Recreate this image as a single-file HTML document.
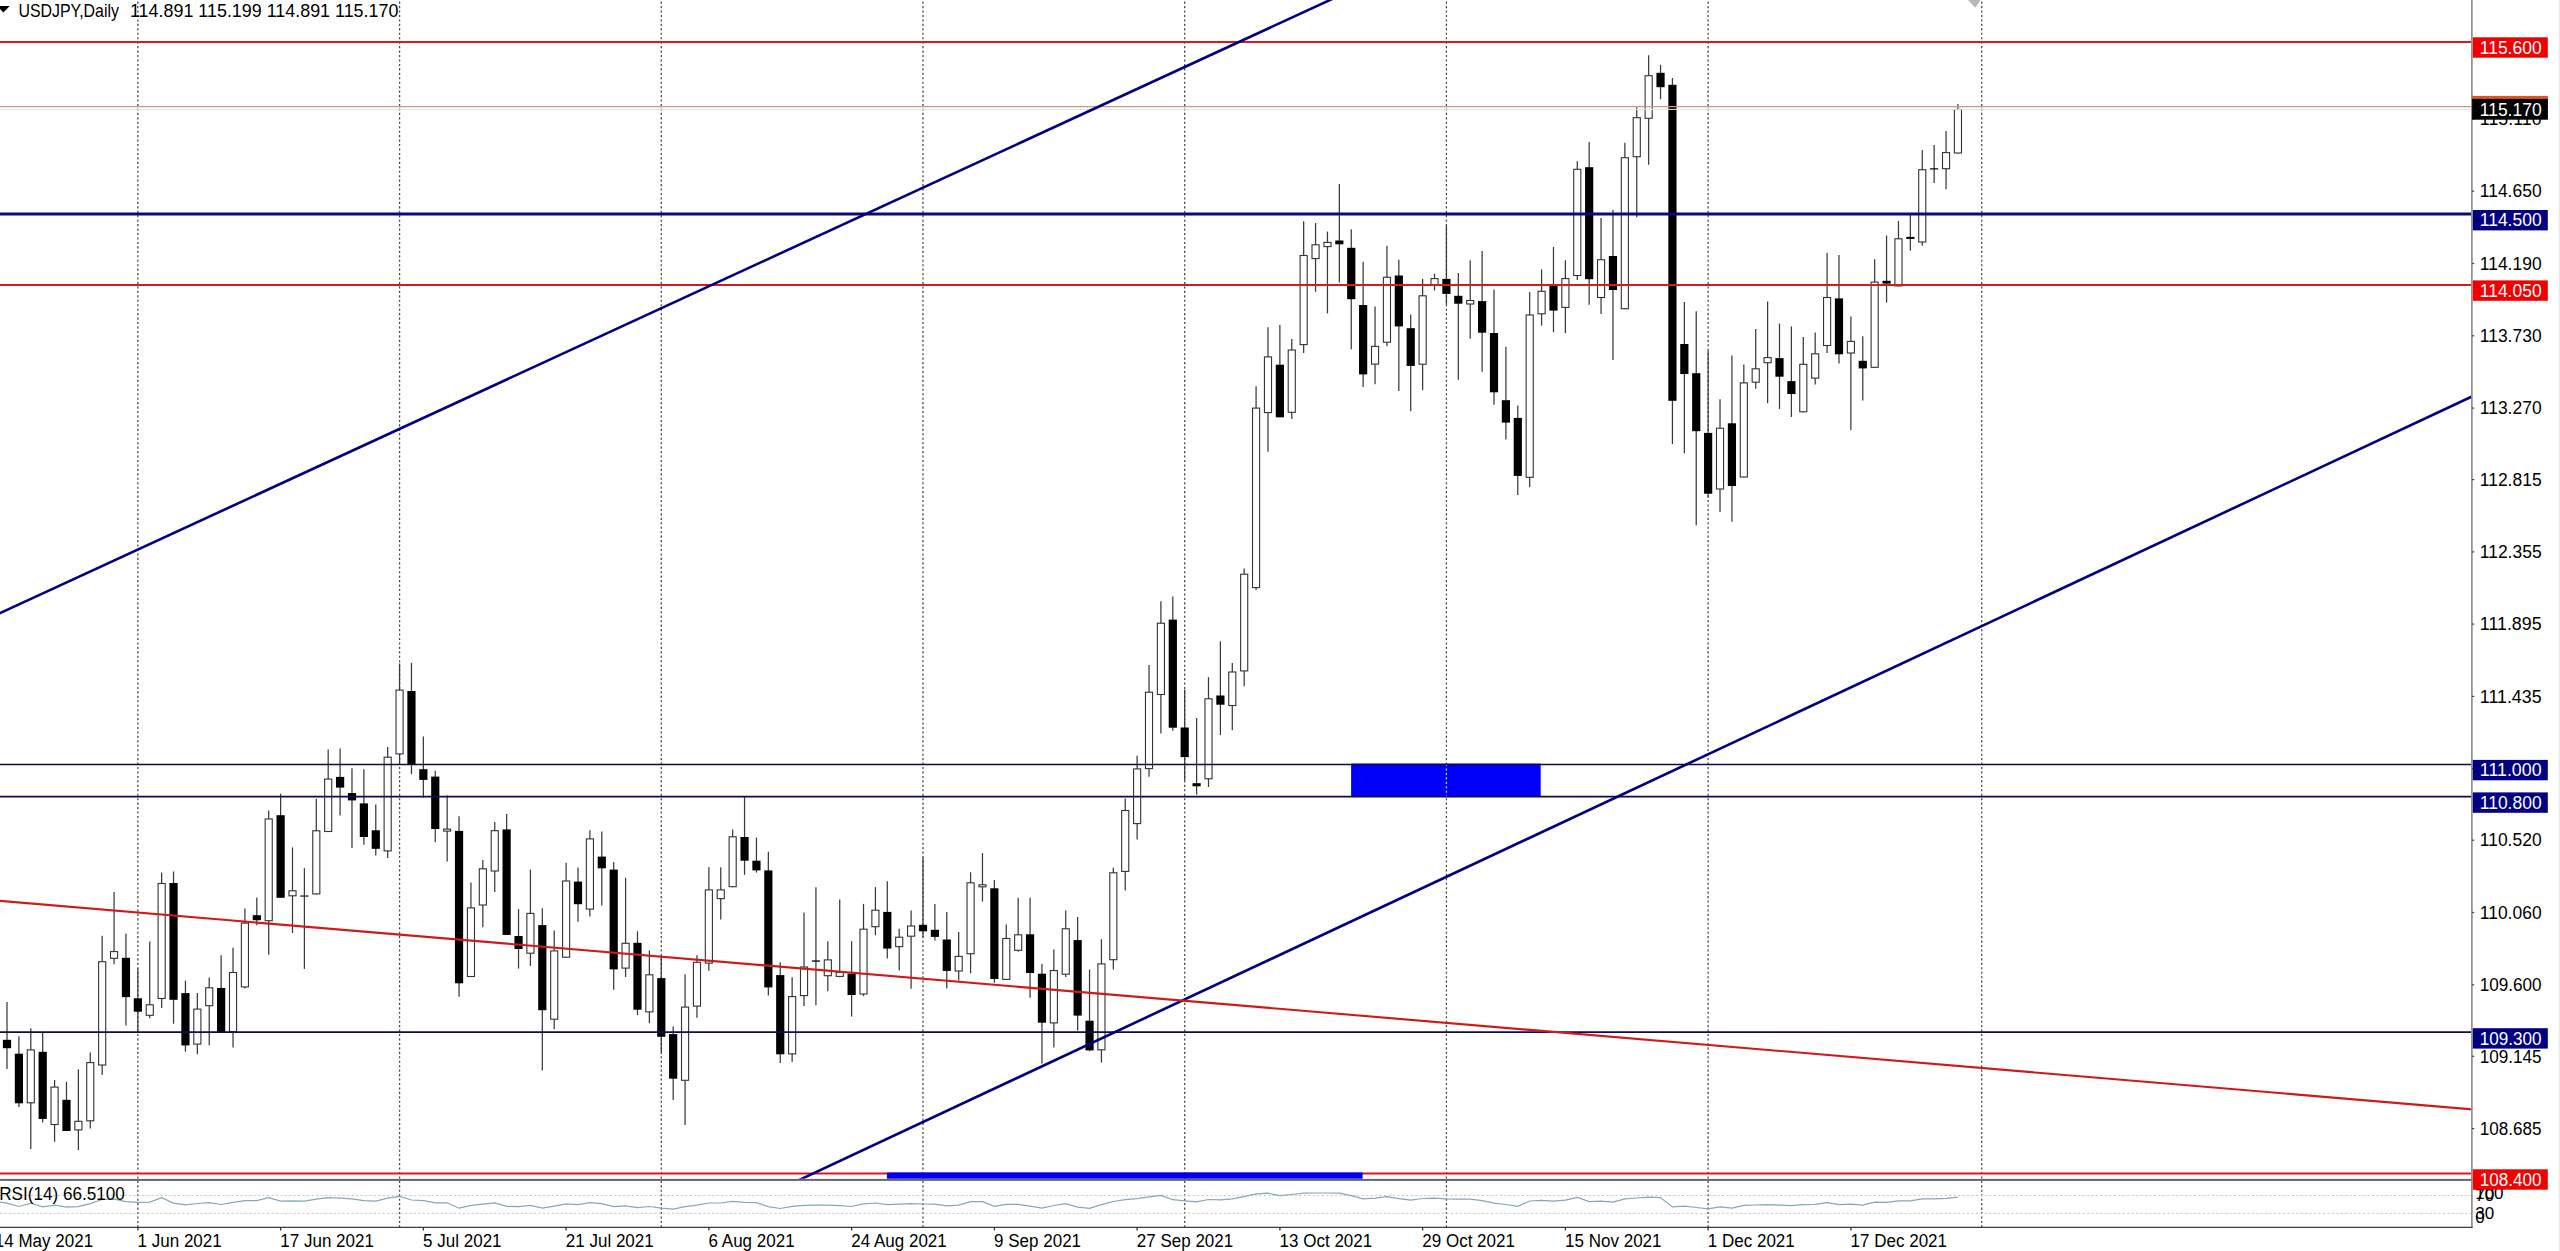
<!DOCTYPE html><html><head><meta charset="utf-8"><title>USDJPY,Daily</title><style>html,body{margin:0;padding:0;background:#fff;width:2560px;height:1251px;overflow:hidden;}text{font-family:"Liberation Sans",sans-serif;}</style></head><body><svg width="2560" height="1251" viewBox="0 0 2560 1251" style="position:absolute;left:0;top:0">
<defs><clipPath id="cc"><rect x="0" y="0" width="2471.2" height="1178.8"/></clipPath><clipPath id="rc"><rect x="0" y="1181" width="2471.2" height="46"/></clipPath></defs>
<rect x="0" y="0" width="2560" height="1251" fill="#fff"/>
<line x1="137.86" y1="1.6" x2="137.86" y2="1227" stroke="#4a4a4a" stroke-width="1.3" stroke-dasharray="2.1 2.35"/>
<line x1="399.57" y1="1.6" x2="399.57" y2="1227" stroke="#4a4a4a" stroke-width="1.3" stroke-dasharray="2.1 2.35"/>
<line x1="661.28" y1="1.6" x2="661.28" y2="1227" stroke="#4a4a4a" stroke-width="1.3" stroke-dasharray="2.1 2.35"/>
<line x1="922.99" y1="1.6" x2="922.99" y2="1227" stroke="#4a4a4a" stroke-width="1.3" stroke-dasharray="2.1 2.35"/>
<line x1="1184.70" y1="1.6" x2="1184.70" y2="1227" stroke="#4a4a4a" stroke-width="1.3" stroke-dasharray="2.1 2.35"/>
<line x1="1446.42" y1="1.6" x2="1446.42" y2="1227" stroke="#4a4a4a" stroke-width="1.3" stroke-dasharray="2.1 2.35"/>
<line x1="1708.13" y1="1.6" x2="1708.13" y2="1227" stroke="#4a4a4a" stroke-width="1.3" stroke-dasharray="2.1 2.35"/>
<line x1="1981.74" y1="1.6" x2="1981.74" y2="1227" stroke="#4a4a4a" stroke-width="1.3" stroke-dasharray="2.1 2.35"/>
<g clip-path="url(#cc)">
<rect x="1351.1" y="763.6" width="189.6" height="33" fill="#0000fa"/>
<line x1="1446.42" y1="764" x2="1446.42" y2="796" stroke="#d0d0ff" stroke-width="1.2" stroke-dasharray="2.1 2.35"/>
<line x1="7.00" y1="1001.9" x2="7.00" y2="1069.1" stroke="#3a3a3a" stroke-width="1.25"/>
<line x1="18.90" y1="1036.2" x2="18.90" y2="1106.9" stroke="#3a3a3a" stroke-width="1.25"/>
<line x1="30.79" y1="1028.3" x2="30.79" y2="1148.9" stroke="#3a3a3a" stroke-width="1.25"/>
<line x1="42.69" y1="1032.6" x2="42.69" y2="1122.5" stroke="#3a3a3a" stroke-width="1.25"/>
<line x1="54.58" y1="1080.1" x2="54.58" y2="1141.7" stroke="#3a3a3a" stroke-width="1.25"/>
<line x1="66.48" y1="1081.8" x2="66.48" y2="1130.9" stroke="#3a3a3a" stroke-width="1.25"/>
<line x1="78.38" y1="1069.3" x2="78.38" y2="1150.1" stroke="#3a3a3a" stroke-width="1.25"/>
<line x1="90.27" y1="1052.5" x2="90.27" y2="1128.5" stroke="#3a3a3a" stroke-width="1.25"/>
<line x1="102.17" y1="935.8" x2="102.17" y2="1075.1" stroke="#3a3a3a" stroke-width="1.25"/>
<line x1="114.06" y1="891.9" x2="114.06" y2="964.3" stroke="#3a3a3a" stroke-width="1.25"/>
<line x1="125.96" y1="933.4" x2="125.96" y2="1025.4" stroke="#3a3a3a" stroke-width="1.25"/>
<line x1="137.86" y1="968.4" x2="137.86" y2="1031.4" stroke="#3a3a3a" stroke-width="1.25"/>
<line x1="149.75" y1="941.5" x2="149.75" y2="1018.2" stroke="#3a3a3a" stroke-width="1.25"/>
<line x1="161.65" y1="872.5" x2="161.65" y2="1007.9" stroke="#3a3a3a" stroke-width="1.25"/>
<line x1="173.54" y1="871.5" x2="173.54" y2="1023.7" stroke="#3a3a3a" stroke-width="1.25"/>
<line x1="185.44" y1="980.6" x2="185.44" y2="1051.8" stroke="#3a3a3a" stroke-width="1.25"/>
<line x1="197.34" y1="993.1" x2="197.34" y2="1054.2" stroke="#3a3a3a" stroke-width="1.25"/>
<line x1="209.23" y1="977.5" x2="209.23" y2="1045.3" stroke="#3a3a3a" stroke-width="1.25"/>
<line x1="221.13" y1="955.2" x2="221.13" y2="1032.1" stroke="#3a3a3a" stroke-width="1.25"/>
<line x1="233.02" y1="947.7" x2="233.02" y2="1047.5" stroke="#3a3a3a" stroke-width="1.25"/>
<line x1="244.92" y1="908.5" x2="244.92" y2="988.4" stroke="#3a3a3a" stroke-width="1.25"/>
<line x1="256.82" y1="897.4" x2="256.82" y2="925.3" stroke="#3a3a3a" stroke-width="1.25"/>
<line x1="268.71" y1="810.5" x2="268.71" y2="954.8" stroke="#3a3a3a" stroke-width="1.25"/>
<line x1="280.61" y1="793.7" x2="280.61" y2="897.7" stroke="#3a3a3a" stroke-width="1.25"/>
<line x1="292.50" y1="847.4" x2="292.50" y2="933.0" stroke="#3a3a3a" stroke-width="1.25"/>
<line x1="304.40" y1="868.2" x2="304.40" y2="968.9" stroke="#3a3a3a" stroke-width="1.25"/>
<line x1="316.30" y1="798.7" x2="316.30" y2="894.4" stroke="#3a3a3a" stroke-width="1.25"/>
<line x1="328.19" y1="749.4" x2="328.19" y2="831.9" stroke="#3a3a3a" stroke-width="1.25"/>
<line x1="340.09" y1="748.4" x2="340.09" y2="815.5" stroke="#3a3a3a" stroke-width="1.25"/>
<line x1="351.98" y1="768.2" x2="351.98" y2="848.1" stroke="#3a3a3a" stroke-width="1.25"/>
<line x1="363.88" y1="769.2" x2="363.88" y2="844.7" stroke="#3a3a3a" stroke-width="1.25"/>
<line x1="375.78" y1="804.4" x2="375.78" y2="855.4" stroke="#3a3a3a" stroke-width="1.25"/>
<line x1="387.67" y1="747.0" x2="387.67" y2="858.1" stroke="#3a3a3a" stroke-width="1.25"/>
<line x1="399.57" y1="663.4" x2="399.57" y2="763.5" stroke="#3a3a3a" stroke-width="1.25"/>
<line x1="411.46" y1="662.8" x2="411.46" y2="774.2" stroke="#3a3a3a" stroke-width="1.25"/>
<line x1="423.36" y1="736.6" x2="423.36" y2="797.7" stroke="#3a3a3a" stroke-width="1.25"/>
<line x1="435.26" y1="770.8" x2="435.26" y2="842.3" stroke="#3a3a3a" stroke-width="1.25"/>
<line x1="447.15" y1="795.4" x2="447.15" y2="861.5" stroke="#3a3a3a" stroke-width="1.25"/>
<line x1="459.05" y1="816.2" x2="459.05" y2="996.8" stroke="#3a3a3a" stroke-width="1.25"/>
<line x1="470.94" y1="882.4" x2="470.94" y2="977.0" stroke="#3a3a3a" stroke-width="1.25"/>
<line x1="482.84" y1="860.1" x2="482.84" y2="927.3" stroke="#3a3a3a" stroke-width="1.25"/>
<line x1="494.74" y1="822.1" x2="494.74" y2="891.9" stroke="#3a3a3a" stroke-width="1.25"/>
<line x1="506.63" y1="813.9" x2="506.63" y2="934.9" stroke="#3a3a3a" stroke-width="1.25"/>
<line x1="518.53" y1="909.1" x2="518.53" y2="968.6" stroke="#3a3a3a" stroke-width="1.25"/>
<line x1="530.42" y1="869.6" x2="530.42" y2="965.9" stroke="#3a3a3a" stroke-width="1.25"/>
<line x1="542.32" y1="908.2" x2="542.32" y2="1070.5" stroke="#3a3a3a" stroke-width="1.25"/>
<line x1="554.22" y1="930.5" x2="554.22" y2="1029.2" stroke="#3a3a3a" stroke-width="1.25"/>
<line x1="566.11" y1="862.8" x2="566.11" y2="957.7" stroke="#3a3a3a" stroke-width="1.25"/>
<line x1="578.01" y1="867.5" x2="578.01" y2="921.8" stroke="#3a3a3a" stroke-width="1.25"/>
<line x1="589.90" y1="830.2" x2="589.90" y2="916.4" stroke="#3a3a3a" stroke-width="1.25"/>
<line x1="601.80" y1="831.6" x2="601.80" y2="905.5" stroke="#3a3a3a" stroke-width="1.25"/>
<line x1="613.70" y1="862.0" x2="613.70" y2="989.8" stroke="#3a3a3a" stroke-width="1.25"/>
<line x1="625.59" y1="877.8" x2="625.59" y2="977.0" stroke="#3a3a3a" stroke-width="1.25"/>
<line x1="637.49" y1="931.3" x2="637.49" y2="1015.1" stroke="#3a3a3a" stroke-width="1.25"/>
<line x1="649.38" y1="950.4" x2="649.38" y2="1023.2" stroke="#3a3a3a" stroke-width="1.25"/>
<line x1="661.28" y1="956.3" x2="661.28" y2="1052.3" stroke="#3a3a3a" stroke-width="1.25"/>
<line x1="673.18" y1="1026.5" x2="673.18" y2="1099.9" stroke="#3a3a3a" stroke-width="1.25"/>
<line x1="685.07" y1="974.3" x2="685.07" y2="1124.9" stroke="#3a3a3a" stroke-width="1.25"/>
<line x1="696.97" y1="955.3" x2="696.97" y2="1017.8" stroke="#3a3a3a" stroke-width="1.25"/>
<line x1="708.86" y1="867.2" x2="708.86" y2="970.8" stroke="#3a3a3a" stroke-width="1.25"/>
<line x1="720.76" y1="867.2" x2="720.76" y2="919.6" stroke="#3a3a3a" stroke-width="1.25"/>
<line x1="732.66" y1="829.4" x2="732.66" y2="887.3" stroke="#3a3a3a" stroke-width="1.25"/>
<line x1="744.55" y1="796.6" x2="744.55" y2="874.8" stroke="#3a3a3a" stroke-width="1.25"/>
<line x1="756.45" y1="837.6" x2="756.45" y2="872.6" stroke="#3a3a3a" stroke-width="1.25"/>
<line x1="768.34" y1="851.7" x2="768.34" y2="995.6" stroke="#3a3a3a" stroke-width="1.25"/>
<line x1="780.24" y1="962.2" x2="780.24" y2="1063.0" stroke="#3a3a3a" stroke-width="1.25"/>
<line x1="792.14" y1="977.3" x2="792.14" y2="1062.1" stroke="#3a3a3a" stroke-width="1.25"/>
<line x1="804.03" y1="912.5" x2="804.03" y2="1006.0" stroke="#3a3a3a" stroke-width="1.25"/>
<line x1="815.93" y1="887.3" x2="815.93" y2="1005.3" stroke="#3a3a3a" stroke-width="1.25"/>
<line x1="827.82" y1="941.2" x2="827.82" y2="991.3" stroke="#3a3a3a" stroke-width="1.25"/>
<line x1="839.72" y1="899.6" x2="839.72" y2="977.3" stroke="#3a3a3a" stroke-width="1.25"/>
<line x1="851.62" y1="941.2" x2="851.62" y2="1016.6" stroke="#3a3a3a" stroke-width="1.25"/>
<line x1="863.51" y1="903.9" x2="863.51" y2="996.1" stroke="#3a3a3a" stroke-width="1.25"/>
<line x1="875.41" y1="887.1" x2="875.41" y2="935.2" stroke="#3a3a3a" stroke-width="1.25"/>
<line x1="887.30" y1="881.2" x2="887.30" y2="958.5" stroke="#3a3a3a" stroke-width="1.25"/>
<line x1="899.20" y1="928.7" x2="899.20" y2="970.4" stroke="#3a3a3a" stroke-width="1.25"/>
<line x1="911.10" y1="910.4" x2="911.10" y2="988.7" stroke="#3a3a3a" stroke-width="1.25"/>
<line x1="922.99" y1="857.5" x2="922.99" y2="937.3" stroke="#3a3a3a" stroke-width="1.25"/>
<line x1="934.89" y1="903.9" x2="934.89" y2="940.6" stroke="#3a3a3a" stroke-width="1.25"/>
<line x1="946.78" y1="911.9" x2="946.78" y2="988.4" stroke="#3a3a3a" stroke-width="1.25"/>
<line x1="958.68" y1="932.0" x2="958.68" y2="980.5" stroke="#3a3a3a" stroke-width="1.25"/>
<line x1="970.58" y1="872.3" x2="970.58" y2="973.3" stroke="#3a3a3a" stroke-width="1.25"/>
<line x1="982.47" y1="853.1" x2="982.47" y2="901.6" stroke="#3a3a3a" stroke-width="1.25"/>
<line x1="994.37" y1="880.0" x2="994.37" y2="982.7" stroke="#3a3a3a" stroke-width="1.25"/>
<line x1="1006.26" y1="924.5" x2="1006.26" y2="979.9" stroke="#3a3a3a" stroke-width="1.25"/>
<line x1="1018.16" y1="897.7" x2="1018.16" y2="951.7" stroke="#3a3a3a" stroke-width="1.25"/>
<line x1="1030.06" y1="897.7" x2="1030.06" y2="997.7" stroke="#3a3a3a" stroke-width="1.25"/>
<line x1="1041.95" y1="963.9" x2="1041.95" y2="1063.5" stroke="#3a3a3a" stroke-width="1.25"/>
<line x1="1053.85" y1="949.5" x2="1053.85" y2="1047.5" stroke="#3a3a3a" stroke-width="1.25"/>
<line x1="1065.74" y1="910.4" x2="1065.74" y2="977.1" stroke="#3a3a3a" stroke-width="1.25"/>
<line x1="1077.64" y1="917.0" x2="1077.64" y2="1030.6" stroke="#3a3a3a" stroke-width="1.25"/>
<line x1="1089.54" y1="969.6" x2="1089.54" y2="1051.3" stroke="#3a3a3a" stroke-width="1.25"/>
<line x1="1101.43" y1="939.2" x2="1101.43" y2="1062.5" stroke="#3a3a3a" stroke-width="1.25"/>
<line x1="1113.33" y1="867.8" x2="1113.33" y2="969.6" stroke="#3a3a3a" stroke-width="1.25"/>
<line x1="1125.22" y1="798.5" x2="1125.22" y2="890.5" stroke="#3a3a3a" stroke-width="1.25"/>
<line x1="1137.12" y1="755.8" x2="1137.12" y2="839.4" stroke="#3a3a3a" stroke-width="1.25"/>
<line x1="1149.02" y1="665.1" x2="1149.02" y2="776.8" stroke="#3a3a3a" stroke-width="1.25"/>
<line x1="1160.91" y1="601.2" x2="1160.91" y2="733.4" stroke="#3a3a3a" stroke-width="1.25"/>
<line x1="1172.81" y1="596.6" x2="1172.81" y2="730.8" stroke="#3a3a3a" stroke-width="1.25"/>
<line x1="1184.70" y1="689.4" x2="1184.70" y2="780.6" stroke="#3a3a3a" stroke-width="1.25"/>
<line x1="1196.60" y1="718.0" x2="1196.60" y2="794.7" stroke="#3a3a3a" stroke-width="1.25"/>
<line x1="1208.50" y1="677.1" x2="1208.50" y2="787.0" stroke="#3a3a3a" stroke-width="1.25"/>
<line x1="1220.39" y1="641.3" x2="1220.39" y2="735.1" stroke="#3a3a3a" stroke-width="1.25"/>
<line x1="1232.29" y1="663.1" x2="1232.29" y2="730.3" stroke="#3a3a3a" stroke-width="1.25"/>
<line x1="1244.18" y1="568.6" x2="1244.18" y2="686.2" stroke="#3a3a3a" stroke-width="1.25"/>
<line x1="1256.08" y1="386.3" x2="1256.08" y2="589.9" stroke="#3a3a3a" stroke-width="1.25"/>
<line x1="1267.98" y1="327.2" x2="1267.98" y2="451.7" stroke="#3a3a3a" stroke-width="1.25"/>
<line x1="1279.87" y1="325.1" x2="1279.87" y2="417.3" stroke="#3a3a3a" stroke-width="1.25"/>
<line x1="1291.77" y1="338.9" x2="1291.77" y2="419.0" stroke="#3a3a3a" stroke-width="1.25"/>
<line x1="1303.66" y1="221.3" x2="1303.66" y2="353.0" stroke="#3a3a3a" stroke-width="1.25"/>
<line x1="1315.56" y1="223.0" x2="1315.56" y2="291.8" stroke="#3a3a3a" stroke-width="1.25"/>
<line x1="1327.46" y1="231.6" x2="1327.46" y2="313.4" stroke="#3a3a3a" stroke-width="1.25"/>
<line x1="1339.35" y1="184.1" x2="1339.35" y2="282.5" stroke="#3a3a3a" stroke-width="1.25"/>
<line x1="1351.25" y1="229.3" x2="1351.25" y2="349.3" stroke="#3a3a3a" stroke-width="1.25"/>
<line x1="1363.14" y1="261.8" x2="1363.14" y2="387.1" stroke="#3a3a3a" stroke-width="1.25"/>
<line x1="1375.04" y1="306.6" x2="1375.04" y2="384.2" stroke="#3a3a3a" stroke-width="1.25"/>
<line x1="1386.94" y1="245.7" x2="1386.94" y2="346.2" stroke="#3a3a3a" stroke-width="1.25"/>
<line x1="1398.83" y1="259.7" x2="1398.83" y2="391.0" stroke="#3a3a3a" stroke-width="1.25"/>
<line x1="1410.73" y1="314.5" x2="1410.73" y2="411.3" stroke="#3a3a3a" stroke-width="1.25"/>
<line x1="1422.62" y1="278.9" x2="1422.62" y2="390.2" stroke="#3a3a3a" stroke-width="1.25"/>
<line x1="1434.52" y1="273.6" x2="1434.52" y2="290.5" stroke="#3a3a3a" stroke-width="1.25"/>
<line x1="1446.42" y1="225.4" x2="1446.42" y2="304.5" stroke="#3a3a3a" stroke-width="1.25"/>
<line x1="1458.31" y1="272.9" x2="1458.31" y2="379.7" stroke="#3a3a3a" stroke-width="1.25"/>
<line x1="1470.21" y1="260.2" x2="1470.21" y2="338.8" stroke="#3a3a3a" stroke-width="1.25"/>
<line x1="1482.10" y1="251.0" x2="1482.10" y2="371.8" stroke="#3a3a3a" stroke-width="1.25"/>
<line x1="1494.00" y1="289.5" x2="1494.00" y2="404.7" stroke="#3a3a3a" stroke-width="1.25"/>
<line x1="1505.90" y1="346.7" x2="1505.90" y2="439.5" stroke="#3a3a3a" stroke-width="1.25"/>
<line x1="1517.79" y1="405.5" x2="1517.79" y2="494.9" stroke="#3a3a3a" stroke-width="1.25"/>
<line x1="1529.69" y1="292.1" x2="1529.69" y2="487.3" stroke="#3a3a3a" stroke-width="1.25"/>
<line x1="1541.58" y1="269.4" x2="1541.58" y2="325.6" stroke="#3a3a3a" stroke-width="1.25"/>
<line x1="1553.48" y1="247.0" x2="1553.48" y2="332.2" stroke="#3a3a3a" stroke-width="1.25"/>
<line x1="1565.38" y1="260.2" x2="1565.38" y2="333.0" stroke="#3a3a3a" stroke-width="1.25"/>
<line x1="1577.27" y1="161.2" x2="1577.27" y2="280.0" stroke="#3a3a3a" stroke-width="1.25"/>
<line x1="1589.17" y1="142.0" x2="1589.17" y2="304.8" stroke="#3a3a3a" stroke-width="1.25"/>
<line x1="1601.06" y1="218.0" x2="1601.06" y2="314.0" stroke="#3a3a3a" stroke-width="1.25"/>
<line x1="1612.96" y1="210.0" x2="1612.96" y2="360.0" stroke="#3a3a3a" stroke-width="1.25"/>
<line x1="1624.86" y1="142.8" x2="1624.86" y2="309.2" stroke="#3a3a3a" stroke-width="1.25"/>
<line x1="1636.75" y1="107.2" x2="1636.75" y2="217.2" stroke="#3a3a3a" stroke-width="1.25"/>
<line x1="1648.65" y1="55.2" x2="1648.65" y2="164.8" stroke="#3a3a3a" stroke-width="1.25"/>
<line x1="1660.54" y1="64.8" x2="1660.54" y2="99.2" stroke="#3a3a3a" stroke-width="1.25"/>
<line x1="1672.44" y1="78.0" x2="1672.44" y2="444.0" stroke="#3a3a3a" stroke-width="1.25"/>
<line x1="1684.34" y1="302.0" x2="1684.34" y2="453.2" stroke="#3a3a3a" stroke-width="1.25"/>
<line x1="1696.23" y1="311.2" x2="1696.23" y2="525.2" stroke="#3a3a3a" stroke-width="1.25"/>
<line x1="1708.13" y1="350.4" x2="1708.13" y2="496.9" stroke="#3a3a3a" stroke-width="1.25"/>
<line x1="1720.02" y1="399.3" x2="1720.02" y2="512.1" stroke="#3a3a3a" stroke-width="1.25"/>
<line x1="1731.92" y1="355.6" x2="1731.92" y2="521.7" stroke="#3a3a3a" stroke-width="1.25"/>
<line x1="1743.82" y1="364.4" x2="1743.82" y2="477.6" stroke="#3a3a3a" stroke-width="1.25"/>
<line x1="1755.71" y1="328.9" x2="1755.71" y2="388.8" stroke="#3a3a3a" stroke-width="1.25"/>
<line x1="1767.61" y1="301.5" x2="1767.61" y2="403.2" stroke="#3a3a3a" stroke-width="1.25"/>
<line x1="1779.50" y1="323.6" x2="1779.50" y2="408.9" stroke="#3a3a3a" stroke-width="1.25"/>
<line x1="1791.40" y1="326.4" x2="1791.40" y2="417.0" stroke="#3a3a3a" stroke-width="1.25"/>
<line x1="1803.30" y1="337.0" x2="1803.30" y2="412.4" stroke="#3a3a3a" stroke-width="1.25"/>
<line x1="1815.19" y1="332.6" x2="1815.19" y2="384.4" stroke="#3a3a3a" stroke-width="1.25"/>
<line x1="1827.09" y1="252.8" x2="1827.09" y2="352.9" stroke="#3a3a3a" stroke-width="1.25"/>
<line x1="1838.98" y1="255.0" x2="1838.98" y2="363.6" stroke="#3a3a3a" stroke-width="1.25"/>
<line x1="1850.88" y1="316.6" x2="1850.88" y2="429.9" stroke="#3a3a3a" stroke-width="1.25"/>
<line x1="1862.78" y1="336.2" x2="1862.78" y2="400.5" stroke="#3a3a3a" stroke-width="1.25"/>
<line x1="1874.67" y1="259.2" x2="1874.67" y2="367.8" stroke="#3a3a3a" stroke-width="1.25"/>
<line x1="1886.57" y1="235.5" x2="1886.57" y2="302.6" stroke="#3a3a3a" stroke-width="1.25"/>
<line x1="1898.46" y1="220.9" x2="1898.46" y2="286.4" stroke="#3a3a3a" stroke-width="1.25"/>
<line x1="1910.36" y1="214.5" x2="1910.36" y2="250.8" stroke="#3a3a3a" stroke-width="1.25"/>
<line x1="1922.26" y1="150.1" x2="1922.26" y2="245.8" stroke="#3a3a3a" stroke-width="1.25"/>
<line x1="1934.15" y1="145.1" x2="1934.15" y2="183.1" stroke="#3a3a3a" stroke-width="1.25"/>
<line x1="1946.05" y1="131.1" x2="1946.05" y2="189.3" stroke="#3a3a3a" stroke-width="1.25"/>
<line x1="1957.94" y1="104.0" x2="1957.94" y2="153.5" stroke="#3a3a3a" stroke-width="1.25"/>
<rect x="2.90" y="1039.8" width="8.2" height="8.4" fill="#000"/>
<rect x="14.80" y="1053.7" width="8.2" height="49.6" fill="#000"/>
<rect x="27.24" y="1049.9" width="7.1" height="52.9" fill="#fff" stroke="#333" stroke-width="1.1"/>
<rect x="38.59" y="1051.8" width="8.2" height="67.1" fill="#000"/>
<rect x="51.03" y="1087.1" width="7.1" height="37.4" fill="#fff" stroke="#333" stroke-width="1.1"/>
<rect x="62.38" y="1099.8" width="8.2" height="31.2" fill="#000"/>
<rect x="74.83" y="1121.3" width="7.1" height="8.6" fill="#fff" stroke="#333" stroke-width="1.1"/>
<rect x="86.72" y="1062.6" width="7.1" height="58.2" fill="#fff" stroke="#333" stroke-width="1.1"/>
<rect x="98.62" y="961.7" width="7.1" height="103.3" fill="#fff" stroke="#333" stroke-width="1.1"/>
<rect x="110.51" y="951.6" width="7.1" height="6.7" fill="#fff" stroke="#333" stroke-width="1.1"/>
<rect x="121.86" y="957.8" width="8.2" height="39.3" fill="#000"/>
<rect x="133.76" y="998.3" width="8.2" height="13.4" fill="#000"/>
<rect x="146.20" y="1004.8" width="7.1" height="10.5" fill="#fff" stroke="#333" stroke-width="1.1"/>
<rect x="158.10" y="883.5" width="7.1" height="115.0" fill="#fff" stroke="#333" stroke-width="1.1"/>
<rect x="169.44" y="883.0" width="8.2" height="116.8" fill="#000"/>
<rect x="181.34" y="993.1" width="8.2" height="52.3" fill="#000"/>
<rect x="193.79" y="1009.1" width="7.1" height="35.0" fill="#fff" stroke="#333" stroke-width="1.1"/>
<rect x="205.68" y="987.8" width="7.1" height="17.9" fill="#fff" stroke="#333" stroke-width="1.1"/>
<rect x="217.03" y="988.0" width="8.2" height="44.1" fill="#000"/>
<rect x="229.47" y="972.5" width="7.1" height="59.2" fill="#fff" stroke="#333" stroke-width="1.1"/>
<rect x="241.37" y="923.1" width="7.1" height="63.8" fill="#fff" stroke="#333" stroke-width="1.1"/>
<rect x="252.72" y="915.2" width="8.2" height="5.0" fill="#000"/>
<rect x="265.16" y="819.0" width="7.1" height="101.7" fill="#fff" stroke="#333" stroke-width="1.1"/>
<rect x="276.51" y="815.2" width="8.2" height="82.6" fill="#000"/>
<rect x="288.95" y="890.8" width="7.1" height="5.0" fill="#fff" stroke="#333" stroke-width="1.1"/>
<rect x="300.85" y="895.9" width="7.1" height="0.3" fill="#fff" stroke="#333" stroke-width="1.1"/>
<rect x="312.75" y="830.8" width="7.1" height="63.1" fill="#fff" stroke="#333" stroke-width="1.1"/>
<rect x="324.64" y="779.1" width="7.1" height="52.4" fill="#fff" stroke="#333" stroke-width="1.1"/>
<rect x="335.99" y="776.9" width="8.2" height="10.7" fill="#000"/>
<rect x="347.88" y="793.0" width="8.2" height="7.4" fill="#000"/>
<rect x="359.78" y="803.4" width="8.2" height="33.6" fill="#000"/>
<rect x="371.68" y="830.3" width="8.2" height="18.5" fill="#000"/>
<rect x="384.12" y="757.2" width="7.1" height="93.7" fill="#fff" stroke="#333" stroke-width="1.1"/>
<rect x="396.02" y="690.1" width="7.1" height="63.8" fill="#fff" stroke="#333" stroke-width="1.1"/>
<rect x="407.36" y="691.0" width="8.2" height="73.2" fill="#000"/>
<rect x="419.26" y="769.2" width="8.2" height="10.7" fill="#000"/>
<rect x="431.16" y="776.6" width="8.2" height="52.4" fill="#000"/>
<rect x="443.60" y="829.1" width="7.1" height="2.0" fill="#fff" stroke="#333" stroke-width="1.1"/>
<rect x="454.95" y="830.9" width="8.2" height="152.4" fill="#000"/>
<rect x="467.39" y="907.9" width="7.1" height="68.6" fill="#fff" stroke="#333" stroke-width="1.1"/>
<rect x="479.29" y="868.8" width="7.1" height="36.2" fill="#fff" stroke="#333" stroke-width="1.1"/>
<rect x="491.19" y="830.7" width="7.1" height="40.3" fill="#fff" stroke="#333" stroke-width="1.1"/>
<rect x="502.53" y="829.4" width="8.2" height="105.5" fill="#000"/>
<rect x="514.43" y="936.0" width="8.2" height="13.0" fill="#000"/>
<rect x="526.87" y="913.4" width="7.1" height="39.8" fill="#fff" stroke="#333" stroke-width="1.1"/>
<rect x="538.22" y="925.1" width="8.2" height="85.1" fill="#000"/>
<rect x="550.67" y="950.9" width="7.1" height="68.3" fill="#fff" stroke="#333" stroke-width="1.1"/>
<rect x="562.56" y="881.0" width="7.1" height="76.2" fill="#fff" stroke="#333" stroke-width="1.1"/>
<rect x="573.91" y="881.6" width="8.2" height="22.6" fill="#000"/>
<rect x="586.35" y="838.9" width="7.1" height="70.2" fill="#fff" stroke="#333" stroke-width="1.1"/>
<rect x="597.70" y="856.6" width="8.2" height="11.7" fill="#000"/>
<rect x="609.60" y="869.6" width="8.2" height="99.8" fill="#000"/>
<rect x="622.04" y="943.3" width="7.1" height="24.8" fill="#fff" stroke="#333" stroke-width="1.1"/>
<rect x="633.39" y="942.8" width="8.2" height="66.9" fill="#000"/>
<rect x="645.83" y="974.8" width="7.1" height="37.1" fill="#fff" stroke="#333" stroke-width="1.1"/>
<rect x="657.18" y="978.1" width="8.2" height="58.7" fill="#000"/>
<rect x="669.08" y="1034.1" width="8.2" height="44.6" fill="#000"/>
<rect x="681.52" y="1007.1" width="7.1" height="73.2" fill="#fff" stroke="#333" stroke-width="1.1"/>
<rect x="693.42" y="962.3" width="7.1" height="43.8" fill="#fff" stroke="#333" stroke-width="1.1"/>
<rect x="705.31" y="889.9" width="7.1" height="73.2" fill="#fff" stroke="#333" stroke-width="1.1"/>
<rect x="717.21" y="889.9" width="7.1" height="8.7" fill="#fff" stroke="#333" stroke-width="1.1"/>
<rect x="729.11" y="836.8" width="7.1" height="49.9" fill="#fff" stroke="#333" stroke-width="1.1"/>
<rect x="740.45" y="837.0" width="8.2" height="23.7" fill="#000"/>
<rect x="752.35" y="860.7" width="8.2" height="9.7" fill="#000"/>
<rect x="764.24" y="870.4" width="8.2" height="117.0" fill="#000"/>
<rect x="776.14" y="975.1" width="8.2" height="79.2" fill="#000"/>
<rect x="788.59" y="996.6" width="7.1" height="57.3" fill="#fff" stroke="#333" stroke-width="1.1"/>
<rect x="800.48" y="967.0" width="7.1" height="28.6" fill="#fff" stroke="#333" stroke-width="1.1"/>
<rect x="811.83" y="960.4" width="8.2" height="1.3" fill="#000"/>
<rect x="824.27" y="959.9" width="7.1" height="15.8" fill="#fff" stroke="#333" stroke-width="1.1"/>
<rect x="836.17" y="972.4" width="7.1" height="4.0" fill="#fff" stroke="#333" stroke-width="1.1"/>
<rect x="847.52" y="973.6" width="8.2" height="21.4" fill="#000"/>
<rect x="859.96" y="929.2" width="7.1" height="64.8" fill="#fff" stroke="#333" stroke-width="1.1"/>
<rect x="871.86" y="910.2" width="7.1" height="16.5" fill="#fff" stroke="#333" stroke-width="1.1"/>
<rect x="883.20" y="911.9" width="8.2" height="36.7" fill="#000"/>
<rect x="895.65" y="937.2" width="7.1" height="9.4" fill="#fff" stroke="#333" stroke-width="1.1"/>
<rect x="907.55" y="926.0" width="7.1" height="10.2" fill="#fff" stroke="#333" stroke-width="1.1"/>
<rect x="918.89" y="924.8" width="8.2" height="6.5" fill="#000"/>
<rect x="930.79" y="929.8" width="8.2" height="7.1" fill="#000"/>
<rect x="942.68" y="939.5" width="8.2" height="31.4" fill="#000"/>
<rect x="955.13" y="956.4" width="7.1" height="14.6" fill="#fff" stroke="#333" stroke-width="1.1"/>
<rect x="967.03" y="882.8" width="7.1" height="70.9" fill="#fff" stroke="#333" stroke-width="1.1"/>
<rect x="978.92" y="884.8" width="7.1" height="2.0" fill="#fff" stroke="#333" stroke-width="1.1"/>
<rect x="990.27" y="888.3" width="8.2" height="90.7" fill="#000"/>
<rect x="1002.71" y="938.5" width="7.1" height="40.9" fill="#fff" stroke="#333" stroke-width="1.1"/>
<rect x="1014.61" y="934.8" width="7.1" height="15.5" fill="#fff" stroke="#333" stroke-width="1.1"/>
<rect x="1025.96" y="934.3" width="8.2" height="38.7" fill="#000"/>
<rect x="1037.85" y="973.7" width="8.2" height="49.0" fill="#000"/>
<rect x="1050.30" y="970.6" width="7.1" height="52.3" fill="#fff" stroke="#333" stroke-width="1.1"/>
<rect x="1062.19" y="928.8" width="7.1" height="45.4" fill="#fff" stroke="#333" stroke-width="1.1"/>
<rect x="1073.54" y="940.1" width="8.2" height="75.5" fill="#000"/>
<rect x="1085.44" y="1020.7" width="8.2" height="29.7" fill="#000"/>
<rect x="1097.88" y="963.9" width="7.1" height="85.9" fill="#fff" stroke="#333" stroke-width="1.1"/>
<rect x="1109.78" y="872.8" width="7.1" height="86.9" fill="#fff" stroke="#333" stroke-width="1.1"/>
<rect x="1121.67" y="810.5" width="7.1" height="60.9" fill="#fff" stroke="#333" stroke-width="1.1"/>
<rect x="1133.57" y="768.9" width="7.1" height="54.7" fill="#fff" stroke="#333" stroke-width="1.1"/>
<rect x="1145.47" y="692.2" width="7.1" height="76.4" fill="#fff" stroke="#333" stroke-width="1.1"/>
<rect x="1157.36" y="623.2" width="7.1" height="71.3" fill="#fff" stroke="#333" stroke-width="1.1"/>
<rect x="1168.71" y="619.6" width="8.2" height="108.1" fill="#000"/>
<rect x="1180.60" y="727.5" width="8.2" height="29.6" fill="#000"/>
<rect x="1192.50" y="783.2" width="8.2" height="3.1" fill="#000"/>
<rect x="1204.95" y="698.8" width="7.1" height="80.0" fill="#fff" stroke="#333" stroke-width="1.1"/>
<rect x="1216.29" y="695.5" width="8.2" height="9.2" fill="#000"/>
<rect x="1228.74" y="672.0" width="7.1" height="33.5" fill="#fff" stroke="#333" stroke-width="1.1"/>
<rect x="1240.63" y="574.2" width="7.1" height="96.7" fill="#fff" stroke="#333" stroke-width="1.1"/>
<rect x="1252.53" y="408.1" width="7.1" height="179.5" fill="#fff" stroke="#333" stroke-width="1.1"/>
<rect x="1264.43" y="356.9" width="7.1" height="55.7" fill="#fff" stroke="#333" stroke-width="1.1"/>
<rect x="1275.77" y="364.7" width="8.2" height="52.6" fill="#000"/>
<rect x="1288.22" y="350.0" width="7.1" height="62.3" fill="#fff" stroke="#333" stroke-width="1.1"/>
<rect x="1300.11" y="255.5" width="7.1" height="89.1" fill="#fff" stroke="#333" stroke-width="1.1"/>
<rect x="1312.01" y="244.8" width="7.1" height="13.8" fill="#fff" stroke="#333" stroke-width="1.1"/>
<rect x="1323.91" y="242.4" width="7.1" height="4.2" fill="#fff" stroke="#333" stroke-width="1.1"/>
<rect x="1335.25" y="240.5" width="8.2" height="3.8" fill="#000"/>
<rect x="1347.15" y="247.8" width="8.2" height="51.4" fill="#000"/>
<rect x="1359.04" y="305.0" width="8.2" height="69.4" fill="#000"/>
<rect x="1371.49" y="346.4" width="7.1" height="17.7" fill="#fff" stroke="#333" stroke-width="1.1"/>
<rect x="1383.39" y="277.3" width="7.1" height="64.9" fill="#fff" stroke="#333" stroke-width="1.1"/>
<rect x="1394.73" y="275.5" width="8.2" height="50.9" fill="#000"/>
<rect x="1406.63" y="328.2" width="8.2" height="37.7" fill="#000"/>
<rect x="1419.07" y="295.8" width="7.1" height="68.4" fill="#fff" stroke="#333" stroke-width="1.1"/>
<rect x="1430.97" y="278.6" width="7.1" height="6.9" fill="#fff" stroke="#333" stroke-width="1.1"/>
<rect x="1442.32" y="278.9" width="8.2" height="15.0" fill="#000"/>
<rect x="1454.21" y="295.8" width="8.2" height="7.9" fill="#000"/>
<rect x="1466.66" y="300.5" width="7.1" height="3.5" fill="#fff" stroke="#333" stroke-width="1.1"/>
<rect x="1478.00" y="301.1" width="8.2" height="31.6" fill="#000"/>
<rect x="1489.90" y="333.0" width="8.2" height="59.3" fill="#000"/>
<rect x="1501.80" y="400.2" width="8.2" height="22.4" fill="#000"/>
<rect x="1513.69" y="417.9" width="8.2" height="58.0" fill="#000"/>
<rect x="1526.14" y="315.0" width="7.1" height="162.3" fill="#fff" stroke="#333" stroke-width="1.1"/>
<rect x="1538.03" y="291.3" width="7.1" height="22.5" fill="#fff" stroke="#333" stroke-width="1.1"/>
<rect x="1549.38" y="285.3" width="8.2" height="25.3" fill="#000"/>
<rect x="1561.83" y="278.6" width="7.1" height="28.8" fill="#fff" stroke="#333" stroke-width="1.1"/>
<rect x="1573.72" y="169.3" width="7.1" height="106.2" fill="#fff" stroke="#333" stroke-width="1.1"/>
<rect x="1585.07" y="167.2" width="8.2" height="112.0" fill="#000"/>
<rect x="1597.51" y="259.7" width="7.1" height="37.8" fill="#fff" stroke="#333" stroke-width="1.1"/>
<rect x="1608.86" y="256.0" width="8.2" height="34.0" fill="#000"/>
<rect x="1621.31" y="157.7" width="7.1" height="151.0" fill="#fff" stroke="#333" stroke-width="1.1"/>
<rect x="1633.20" y="117.7" width="7.1" height="39.0" fill="#fff" stroke="#333" stroke-width="1.1"/>
<rect x="1645.10" y="75.7" width="7.1" height="42.6" fill="#fff" stroke="#333" stroke-width="1.1"/>
<rect x="1656.44" y="72.8" width="8.2" height="14.4" fill="#000"/>
<rect x="1668.34" y="84.8" width="8.2" height="316.0" fill="#000"/>
<rect x="1680.24" y="344.0" width="8.2" height="30.0" fill="#000"/>
<rect x="1692.13" y="373.2" width="8.2" height="58.0" fill="#000"/>
<rect x="1704.03" y="432.9" width="8.2" height="60.8" fill="#000"/>
<rect x="1716.47" y="428.2" width="7.1" height="60.8" fill="#fff" stroke="#333" stroke-width="1.1"/>
<rect x="1727.82" y="423.3" width="8.2" height="62.7" fill="#000"/>
<rect x="1740.27" y="382.9" width="7.1" height="94.1" fill="#fff" stroke="#333" stroke-width="1.1"/>
<rect x="1752.16" y="368.8" width="7.1" height="13.4" fill="#fff" stroke="#333" stroke-width="1.1"/>
<rect x="1764.06" y="357.6" width="7.1" height="5.1" fill="#fff" stroke="#333" stroke-width="1.1"/>
<rect x="1775.40" y="358.1" width="8.2" height="18.6" fill="#000"/>
<rect x="1787.30" y="381.1" width="8.2" height="12.9" fill="#000"/>
<rect x="1799.75" y="364.3" width="7.1" height="47.5" fill="#fff" stroke="#333" stroke-width="1.1"/>
<rect x="1811.64" y="353.8" width="7.1" height="24.3" fill="#fff" stroke="#333" stroke-width="1.1"/>
<rect x="1823.54" y="297.5" width="7.1" height="48.0" fill="#fff" stroke="#333" stroke-width="1.1"/>
<rect x="1834.88" y="298.4" width="8.2" height="55.9" fill="#000"/>
<rect x="1847.33" y="341.4" width="7.1" height="11.6" fill="#fff" stroke="#333" stroke-width="1.1"/>
<rect x="1858.68" y="360.8" width="8.2" height="7.6" fill="#000"/>
<rect x="1871.12" y="282.1" width="7.1" height="85.2" fill="#fff" stroke="#333" stroke-width="1.1"/>
<rect x="1882.47" y="280.8" width="8.2" height="2.8" fill="#000"/>
<rect x="1894.91" y="238.8" width="7.1" height="47.1" fill="#fff" stroke="#333" stroke-width="1.1"/>
<rect x="1906.26" y="236.9" width="8.2" height="2.0" fill="#000"/>
<rect x="1918.71" y="169.7" width="7.1" height="72.3" fill="#fff" stroke="#333" stroke-width="1.1"/>
<rect x="1930.05" y="168.3" width="8.2" height="1.2" fill="#000"/>
<rect x="1942.50" y="152.6" width="7.1" height="16.1" fill="#fff" stroke="#333" stroke-width="1.1"/>
<rect x="1954.39" y="109.5" width="7.1" height="43.5" fill="#fff" stroke="#333" stroke-width="1.1"/>
<line x1="0" y1="42.0" x2="2471.5" y2="42.0" stroke="#d41c1c" stroke-width="2.0"/>
<line x1="0" y1="285.0" x2="2471.5" y2="285.0" stroke="#d41c1c" stroke-width="2.0"/>
<line x1="0" y1="1173.5" x2="2471.5" y2="1173.5" stroke="#d41c1c" stroke-width="1.8"/>
<line x1="0" y1="214.0" x2="2471.5" y2="214.0" stroke="#0a0a78" stroke-width="3.2"/>
<line x1="0" y1="764.5" x2="2471.5" y2="764.5" stroke="#100850" stroke-width="1.6"/>
<line x1="0" y1="796.6" x2="2471.5" y2="796.6" stroke="#100850" stroke-width="1.6"/>
<line x1="0" y1="1032.1" x2="2471.5" y2="1032.1" stroke="#100850" stroke-width="1.6"/>
<rect x="886.9" y="1172.5" width="475.7" height="8" fill="#0000f0"/>
<line x1="0" y1="106.6" x2="2471.5" y2="106.6" stroke="#c8968c" stroke-width="1.2"/>
<line x1="0" y1="109.4" x2="2471.5" y2="109.4" stroke="#e2e6e2" stroke-width="1.0"/>
<line x1="-5.0" y1="615.4" x2="1345.0" y2="-6.9" stroke="#000080" stroke-width="2.6"/>
<line x1="790.0" y1="1184.3" x2="2480.0" y2="392.7" stroke="#000080" stroke-width="2.6"/>
<line x1="-5.0" y1="900.5" x2="2480.0" y2="1110.0" stroke="#cf1a1a" stroke-width="2.1"/>
</g>
<polygon points="1967.9,0 1980.6,0 1975.3,7.8" fill="#b8b8b8"/>
<rect x="0" y="1178.9" width="2472" height="2" fill="#666"/>
<line x1="2471.9" y1="0" x2="2471.9" y2="1228" stroke="#808080" stroke-width="1.5"/>
<line x1="0" y1="1227.4" x2="2472.6" y2="1227.4" stroke="#3c3c3c" stroke-width="1.4"/>
<line x1="2559.3" y1="0" x2="2559.3" y2="1251" stroke="#e6e6e6" stroke-width="1.2"/>
<line x1="0" y1="1195.5" x2="2471" y2="1195.5" stroke="#c8c8c8" stroke-width="1" stroke-dasharray="2.2 2.25"/>
<line x1="0" y1="1213.4" x2="2471" y2="1213.4" stroke="#c8c8c8" stroke-width="1" stroke-dasharray="2.2 2.25"/>
<polyline points="-5,1201.6 7.0,1203.1 18.9,1206.5 30.8,1203.3 42.7,1206.9 54.6,1205.1 66.5,1207.2 78.4,1206.7 90.3,1203.6 102.2,1199.5 114.1,1199.2 126.0,1201.6 137.9,1202.4 149.8,1202.1 161.6,1197.7 173.5,1203.1 185.4,1204.8 197.3,1203.5 209.2,1202.7 221.1,1204.5 233.0,1202.3 244.9,1200.7 256.8,1200.6 268.7,1197.7 280.6,1201.1 292.5,1200.9 304.4,1201.1 316.3,1199.1 328.2,1197.7 340.1,1198.2 352.0,1198.8 363.9,1200.7 375.8,1201.2 387.7,1198.2 399.6,1196.4 411.5,1200.0 423.4,1200.7 435.3,1202.8 447.2,1202.8 459.0,1208.2 470.9,1205.4 482.8,1204.1 494.7,1202.9 506.6,1206.3 518.5,1206.7 530.4,1205.4 542.3,1208.2 554.2,1206.1 566.1,1203.9 578.0,1204.7 589.9,1202.7 601.8,1203.7 613.7,1206.7 625.6,1205.8 637.5,1207.7 649.4,1206.5 661.3,1208.2 673.2,1209.2 685.1,1206.6 697.0,1205.2 708.9,1203.0 720.8,1203.0 732.7,1201.4 744.6,1202.3 756.4,1202.7 768.3,1206.6 780.2,1208.5 792.1,1206.4 804.0,1205.4 815.9,1205.2 827.8,1205.1 839.7,1205.6 851.6,1206.5 863.5,1203.8 875.4,1203.0 887.3,1204.7 899.2,1204.2 911.1,1203.7 923.0,1204.0 934.9,1204.2 946.8,1205.9 958.7,1205.1 970.6,1201.6 982.5,1201.7 994.4,1206.4 1006.3,1204.4 1018.2,1204.3 1030.1,1206.1 1042.0,1208.1 1053.8,1205.5 1065.7,1203.6 1077.6,1207.1 1089.5,1208.4 1101.4,1204.6 1113.3,1201.5 1125.2,1199.7 1137.1,1198.6 1149.0,1196.8 1160.9,1195.4 1172.8,1199.7 1184.7,1200.8 1196.6,1201.8 1208.5,1199.5 1220.4,1199.8 1232.3,1198.9 1244.2,1196.7 1256.1,1193.9 1268.0,1193.2 1279.9,1195.6 1291.8,1194.5 1303.7,1193.2 1315.6,1193.0 1327.5,1193.0 1339.4,1193.1 1351.2,1195.7 1363.1,1198.8 1375.0,1198.1 1386.9,1196.6 1398.8,1198.7 1410.7,1200.2 1422.6,1198.5 1434.5,1198.1 1446.4,1198.8 1458.3,1199.2 1470.2,1199.1 1482.1,1200.6 1494.0,1203.2 1505.9,1204.5 1517.8,1206.4 1529.7,1201.0 1541.6,1200.3 1553.5,1201.1 1565.4,1200.2 1577.3,1197.4 1589.2,1201.6 1601.1,1201.1 1613.0,1202.2 1624.9,1198.8 1636.8,1198.0 1648.6,1197.1 1660.5,1197.6 1672.4,1206.9 1684.3,1206.2 1696.2,1207.5 1708.1,1208.8 1720.0,1206.9 1731.9,1208.2 1743.8,1205.3 1755.7,1205.0 1767.6,1204.7 1779.5,1205.2 1791.4,1205.7 1803.3,1204.7 1815.2,1204.4 1827.1,1202.6 1839.0,1204.6 1850.9,1204.1 1862.8,1205.1 1874.7,1202.2 1886.6,1202.3 1898.5,1200.9 1910.4,1200.9 1922.3,1198.8 1934.2,1198.8 1946.0,1198.3 1957.9,1197.1" fill="none" stroke="#84a9b6" stroke-width="1.2" clip-path="url(#rc)"/>
<line x1="2472" y1="118.9" x2="2474.2" y2="118.9" stroke="#444" stroke-width="1.2"/>
<text x="2479.8" y="125.1" font-size="17.6" font-family="Liberation Sans, sans-serif" fill="#000" textLength="61.8" lengthAdjust="spacingAndGlyphs">115.110</text>
<line x1="2472" y1="191.2" x2="2474.2" y2="191.2" stroke="#444" stroke-width="1.2"/>
<text x="2479.8" y="197.4" font-size="17.6" font-family="Liberation Sans, sans-serif" fill="#000" textLength="61.8" lengthAdjust="spacingAndGlyphs">114.650</text>
<line x1="2472" y1="263.5" x2="2474.2" y2="263.5" stroke="#444" stroke-width="1.2"/>
<text x="2479.8" y="269.7" font-size="17.6" font-family="Liberation Sans, sans-serif" fill="#000" textLength="61.8" lengthAdjust="spacingAndGlyphs">114.190</text>
<line x1="2472" y1="335.8" x2="2474.2" y2="335.8" stroke="#444" stroke-width="1.2"/>
<text x="2479.8" y="342.0" font-size="17.6" font-family="Liberation Sans, sans-serif" fill="#000" textLength="61.8" lengthAdjust="spacingAndGlyphs">113.730</text>
<line x1="2472" y1="408.1" x2="2474.2" y2="408.1" stroke="#444" stroke-width="1.2"/>
<text x="2479.8" y="414.3" font-size="17.6" font-family="Liberation Sans, sans-serif" fill="#000" textLength="61.8" lengthAdjust="spacingAndGlyphs">113.270</text>
<line x1="2472" y1="479.6" x2="2474.2" y2="479.6" stroke="#444" stroke-width="1.2"/>
<text x="2479.8" y="485.8" font-size="17.6" font-family="Liberation Sans, sans-serif" fill="#000" textLength="61.8" lengthAdjust="spacingAndGlyphs">112.815</text>
<line x1="2472" y1="551.9" x2="2474.2" y2="551.9" stroke="#444" stroke-width="1.2"/>
<text x="2479.8" y="558.1" font-size="17.6" font-family="Liberation Sans, sans-serif" fill="#000" textLength="61.8" lengthAdjust="spacingAndGlyphs">112.355</text>
<line x1="2472" y1="624.1" x2="2474.2" y2="624.1" stroke="#444" stroke-width="1.2"/>
<text x="2479.8" y="630.3" font-size="17.6" font-family="Liberation Sans, sans-serif" fill="#000" textLength="61.8" lengthAdjust="spacingAndGlyphs">111.895</text>
<line x1="2472" y1="696.4" x2="2474.2" y2="696.4" stroke="#444" stroke-width="1.2"/>
<text x="2479.8" y="702.6" font-size="17.6" font-family="Liberation Sans, sans-serif" fill="#000" textLength="61.8" lengthAdjust="spacingAndGlyphs">111.435</text>
<line x1="2472" y1="768.7" x2="2474.2" y2="768.7" stroke="#444" stroke-width="1.2"/>
<text x="2479.8" y="774.9" font-size="17.6" font-family="Liberation Sans, sans-serif" fill="#000" textLength="61.8" lengthAdjust="spacingAndGlyphs">110.975</text>
<line x1="2472" y1="840.2" x2="2474.2" y2="840.2" stroke="#444" stroke-width="1.2"/>
<text x="2479.8" y="846.4" font-size="17.6" font-family="Liberation Sans, sans-serif" fill="#000" textLength="61.8" lengthAdjust="spacingAndGlyphs">110.520</text>
<line x1="2472" y1="912.5" x2="2474.2" y2="912.5" stroke="#444" stroke-width="1.2"/>
<text x="2479.8" y="918.7" font-size="17.6" font-family="Liberation Sans, sans-serif" fill="#000" textLength="61.8" lengthAdjust="spacingAndGlyphs">110.060</text>
<line x1="2472" y1="984.8" x2="2474.2" y2="984.8" stroke="#444" stroke-width="1.2"/>
<text x="2479.8" y="991.0" font-size="17.6" font-family="Liberation Sans, sans-serif" fill="#000" textLength="61.8" lengthAdjust="spacingAndGlyphs">109.600</text>
<line x1="2472" y1="1056.3" x2="2474.2" y2="1056.3" stroke="#444" stroke-width="1.2"/>
<text x="2479.8" y="1062.5" font-size="17.6" font-family="Liberation Sans, sans-serif" fill="#000" textLength="61.8" lengthAdjust="spacingAndGlyphs">109.145</text>
<line x1="2472" y1="1128.6" x2="2474.2" y2="1128.6" stroke="#444" stroke-width="1.2"/>
<text x="2479.8" y="1134.8" font-size="17.6" font-family="Liberation Sans, sans-serif" fill="#000" textLength="61.8" lengthAdjust="spacingAndGlyphs">108.685</text>
<rect x="2472.8" y="37.3" width="75" height="20.4" fill="#f00000"/>
<text x="2479.8" y="53.6" font-size="17.6" font-family="Liberation Sans, sans-serif" fill="#fff" textLength="61.8" lengthAdjust="spacingAndGlyphs">115.600</text>
<rect x="2472.8" y="210.0" width="75" height="20.4" fill="#000080"/>
<text x="2479.8" y="226.3" font-size="17.6" font-family="Liberation Sans, sans-serif" fill="#fff" textLength="61.8" lengthAdjust="spacingAndGlyphs">114.500</text>
<rect x="2472.8" y="280.4" width="75" height="20.4" fill="#f00000"/>
<text x="2479.8" y="296.7" font-size="17.6" font-family="Liberation Sans, sans-serif" fill="#fff" textLength="61.8" lengthAdjust="spacingAndGlyphs">114.050</text>
<rect x="2472.8" y="759.9" width="75" height="20.4" fill="#000080"/>
<text x="2479.8" y="776.2" font-size="17.6" font-family="Liberation Sans, sans-serif" fill="#fff" textLength="61.8" lengthAdjust="spacingAndGlyphs">111.000</text>
<rect x="2472.8" y="792.4" width="75" height="20.4" fill="#000080"/>
<text x="2479.8" y="808.7" font-size="17.6" font-family="Liberation Sans, sans-serif" fill="#fff" textLength="61.8" lengthAdjust="spacingAndGlyphs">110.800</text>
<rect x="2472.8" y="1028.2" width="75" height="20.4" fill="#000080"/>
<text x="2479.8" y="1044.5" font-size="17.6" font-family="Liberation Sans, sans-serif" fill="#fff" textLength="61.8" lengthAdjust="spacingAndGlyphs">109.300</text>
<text x="2475.2" y="1198.6" font-size="17" font-family="Liberation Sans, sans-serif" fill="#000">100</text>
<text x="2475.2" y="1201.2" font-size="17" font-family="Liberation Sans, sans-serif" fill="#000">70</text>
<text x="2475.2" y="1219.4" font-size="17" font-family="Liberation Sans, sans-serif" fill="#000">30</text>
<text x="2475.2" y="1222.6" font-size="17" font-family="Liberation Sans, sans-serif" fill="#000">0</text>
<rect x="2472.8" y="1169.3" width="75" height="20.4" fill="#f00000"/>
<text x="2479.8" y="1185.6" font-size="17.6" font-family="Liberation Sans, sans-serif" fill="#fff" textLength="61.8" lengthAdjust="spacingAndGlyphs">108.400</text>
<rect x="2472.1" y="95.9" width="75.8" height="3.2" fill="#e0541e"/>
<rect x="2472.1" y="98.9" width="75.8" height="20.8" fill="#000"/>
<text x="2479.8" y="115.9" font-size="17.6" font-family="Liberation Sans, sans-serif" fill="#fff" textLength="61.8" lengthAdjust="spacingAndGlyphs">115.170</text>
<line x1="-4.9" y1="1227" x2="-4.9" y2="1230.5" stroke="#333" stroke-width="1.3"/>
<text x="-5.2" y="1247" font-size="17.6" font-family="Liberation Sans, sans-serif" fill="#000" class="dl" textLength="98.30" lengthAdjust="spacingAndGlyphs">14 May 2021</text>
<line x1="137.9" y1="1227" x2="137.9" y2="1230.5" stroke="#333" stroke-width="1.3"/>
<text x="137.6" y="1247" font-size="17.6" font-family="Liberation Sans, sans-serif" fill="#000" class="dl" textLength="84.14" lengthAdjust="spacingAndGlyphs">1 Jun 2021</text>
<line x1="280.6" y1="1227" x2="280.6" y2="1230.5" stroke="#333" stroke-width="1.3"/>
<text x="280.3" y="1247" font-size="17.6" font-family="Liberation Sans, sans-serif" fill="#000" class="dl" textLength="93.59" lengthAdjust="spacingAndGlyphs">17 Jun 2021</text>
<line x1="423.4" y1="1227" x2="423.4" y2="1230.5" stroke="#333" stroke-width="1.3"/>
<text x="423.1" y="1247" font-size="17.6" font-family="Liberation Sans, sans-serif" fill="#000" class="dl" textLength="78.45" lengthAdjust="spacingAndGlyphs">5 Jul 2021</text>
<line x1="566.1" y1="1227" x2="566.1" y2="1230.5" stroke="#333" stroke-width="1.3"/>
<text x="565.8" y="1247" font-size="17.6" font-family="Liberation Sans, sans-serif" fill="#000" class="dl" textLength="87.91" lengthAdjust="spacingAndGlyphs">21 Jul 2021</text>
<line x1="708.9" y1="1227" x2="708.9" y2="1230.5" stroke="#333" stroke-width="1.3"/>
<text x="708.6" y="1247" font-size="17.6" font-family="Liberation Sans, sans-serif" fill="#000" class="dl" textLength="86.03" lengthAdjust="spacingAndGlyphs">6 Aug 2021</text>
<line x1="851.6" y1="1227" x2="851.6" y2="1230.5" stroke="#333" stroke-width="1.3"/>
<text x="851.3" y="1247" font-size="17.6" font-family="Liberation Sans, sans-serif" fill="#000" class="dl" textLength="95.48" lengthAdjust="spacingAndGlyphs">24 Aug 2021</text>
<line x1="994.4" y1="1227" x2="994.4" y2="1230.5" stroke="#333" stroke-width="1.3"/>
<text x="994.1" y="1247" font-size="17.6" font-family="Liberation Sans, sans-serif" fill="#000" class="dl" textLength="86.97" lengthAdjust="spacingAndGlyphs">9 Sep 2021</text>
<line x1="1137.1" y1="1227" x2="1137.1" y2="1230.5" stroke="#333" stroke-width="1.3"/>
<text x="1136.8" y="1247" font-size="17.6" font-family="Liberation Sans, sans-serif" fill="#000" class="dl" textLength="96.42" lengthAdjust="spacingAndGlyphs">27 Sep 2021</text>
<line x1="1279.9" y1="1227" x2="1279.9" y2="1230.5" stroke="#333" stroke-width="1.3"/>
<text x="1279.6" y="1247" font-size="17.6" font-family="Liberation Sans, sans-serif" fill="#000" class="dl" textLength="92.62" lengthAdjust="spacingAndGlyphs">13 Oct 2021</text>
<line x1="1422.6" y1="1227" x2="1422.6" y2="1230.5" stroke="#333" stroke-width="1.3"/>
<text x="1422.3" y="1247" font-size="17.6" font-family="Liberation Sans, sans-serif" fill="#000" class="dl" textLength="92.62" lengthAdjust="spacingAndGlyphs">29 Oct 2021</text>
<line x1="1565.4" y1="1227" x2="1565.4" y2="1230.5" stroke="#333" stroke-width="1.3"/>
<text x="1565.1" y="1247" font-size="17.6" font-family="Liberation Sans, sans-serif" fill="#000" class="dl" textLength="96.41" lengthAdjust="spacingAndGlyphs">15 Nov 2021</text>
<line x1="1708.1" y1="1227" x2="1708.1" y2="1230.5" stroke="#333" stroke-width="1.3"/>
<text x="1707.8" y="1247" font-size="17.6" font-family="Liberation Sans, sans-serif" fill="#000" class="dl" textLength="86.95" lengthAdjust="spacingAndGlyphs">1 Dec 2021</text>
<line x1="1850.9" y1="1227" x2="1850.9" y2="1230.5" stroke="#333" stroke-width="1.3"/>
<text x="1850.6" y="1247" font-size="17.6" font-family="Liberation Sans, sans-serif" fill="#000" class="dl" textLength="96.41" lengthAdjust="spacingAndGlyphs">17 Dec 2021</text>
<polygon points="-2.9,6.0 9.7,6.0 3.4,12.6" fill="#000"/>
<text x="18.4" y="16.9" font-size="18.2" font-family="Liberation Sans, sans-serif" fill="#000" textLength="100.6" lengthAdjust="spacingAndGlyphs">USDJPY,Daily</text>
<text x="130.0" y="16.9" font-size="18.2" font-family="Liberation Sans, sans-serif" fill="#000" textLength="268.4" lengthAdjust="spacingAndGlyphs">114.891 115.199 114.891 115.170</text>
<text x="-0.8" y="1200.1" font-size="17.6" font-family="Liberation Sans, sans-serif" fill="#000" textLength="125.5" lengthAdjust="spacingAndGlyphs">RSI(14) 66.5100</text>
</svg></body></html>
